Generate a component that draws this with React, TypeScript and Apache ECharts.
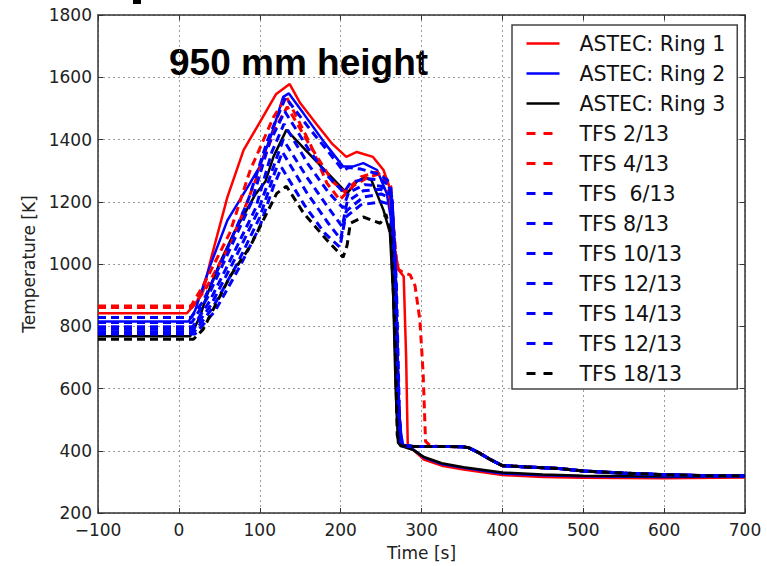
import React, { useEffect, useRef } from "react";
import * as echarts from "echarts";

// ---- axis ticks ----
const xTicks = { min: -100, max: 700, interval: 100 };
const yTicks = { min: 200, max: 1800, interval: 200 };

// ---- ASTEC (solid) ----
const ring1Time = [-100, 10, 20, 30, 40, 60, 80, 100, 120, 137, 150, 170, 190, 207, 220, 240, 253, 260, 266, 272, 278, 281, 283, 290, 303, 325, 352, 400, 450, 500, 600, 700];
const ring1Temp = [842, 842, 872, 912, 1020, 1215, 1366, 1455, 1545, 1578, 1517, 1450, 1385, 1344, 1360, 1344, 1302, 1250, 1060, 980, 960, 700, 420, 402, 372, 352, 340, 322, 316, 313, 312, 314];

const ring2Time = [-100, 12, 20, 38, 60, 88, 100, 115, 129, 136, 154, 180, 203, 215, 228, 245, 257, 262, 266, 270, 274, 290, 303, 325, 352, 400, 450, 500, 600, 700];
const ring2Temp = [815, 815, 850, 990, 1140, 1260, 1313, 1420, 1537, 1548, 1484, 1390, 1313, 1313, 1324, 1302, 1227, 1150, 850, 500, 418, 404, 378, 357, 345, 327, 321, 318, 316, 317];

const ring3Time = [-100, 14, 26, 34, 50, 70, 95, 107, 117, 133, 170, 208, 220, 230, 238, 253, 261, 265, 268, 271, 275, 290, 303, 325, 352, 400, 450, 500, 600, 700];
const ring3Temp = [768, 768, 830, 895, 1000, 1110, 1225, 1265, 1345, 1431, 1330, 1227, 1265, 1278, 1270, 1173, 1100, 900, 600, 425, 415, 402, 380, 360, 347, 330, 324, 320, 318, 318];

// ---- TFS (dashed) ----
const tfsTailTime = [290, 320, 350, 358, 370, 385, 400, 430, 470, 500, 550, 600, 650, 700];
const tfsTailTemp = [414, 414, 413, 410, 395, 372, 352, 348, 343, 335, 328, 323, 320, 320];

const tfs2Time = [-100, 15, 30, 63, 88, 117, 133, 162, 183, 199, 215, 235, 252, 262, 267, 271, 275];
const tfs2Temp = [865, 865, 930, 1100, 1300, 1472, 1537, 1388, 1260, 1206, 1250, 1280, 1292, 1250, 1050, 600, 418];

const tfs4Time = [-100, 16, 32, 65, 92, 120, 134, 160, 190, 205, 225, 245, 258, 265, 270, 276, 286, 292, 298, 302, 305, 310];
const tfs4Temp = [860, 860, 915, 1070, 1250, 1440, 1505, 1390, 1265, 1232, 1280, 1295, 1262, 1130, 985, 975, 965, 930, 820, 650, 430, 418];

const tfs6Time = [-100, 15, 30, 55, 85, 110, 132, 160, 185, 203, 210, 225, 245, 258, 264, 268, 272, 276];
const tfs6Temp = [828, 828, 880, 1020, 1200, 1400, 1535, 1440, 1360, 1300, 1310, 1305, 1290, 1270, 1200, 900, 500, 418];

const tfs8Time = [-100, 16, 35, 60, 90, 112, 131, 160, 185, 204, 212, 230, 250, 262, 267, 271, 275];
const tfs8Temp = [812, 812, 890, 1030, 1200, 1390, 1490, 1370, 1280, 1230, 1260, 1275, 1270, 1250, 1050, 600, 418];

const tfs10Time = [-100, 17, 38, 65, 95, 115, 130, 160, 185, 203, 210, 230, 250, 262, 267, 271, 275];
const tfs10Temp = [798, 798, 880, 1020, 1180, 1360, 1450, 1320, 1230, 1180, 1230, 1255, 1250, 1230, 1000, 560, 418];

const tfs12Time = [-100, 18, 40, 68, 98, 118, 129, 158, 185, 202, 208, 228, 250, 263, 268, 272, 276];
const tfs12Temp = [790, 790, 870, 1010, 1170, 1320, 1400, 1280, 1180, 1120, 1200, 1235, 1240, 1220, 980, 520, 416];

const tfs14Time = [-100, 19, 42, 72, 100, 118, 128, 158, 185, 200, 207, 228, 250, 263, 268, 272, 276];
const tfs14Temp = [782, 782, 860, 1000, 1150, 1290, 1360, 1230, 1130, 1080, 1170, 1215, 1225, 1210, 950, 500, 416];

const tfs12bTime = [-100, 20, 45, 75, 100, 117, 127, 155, 180, 199, 206, 225, 250, 264, 269, 273, 277];
const tfs12bTemp = [775, 775, 850, 990, 1120, 1250, 1310, 1190, 1100, 1054, 1150, 1190, 1200, 1190, 930, 480, 416];

const tfs18Time = [-100, 18, 30, 63, 88, 121, 133, 154, 183, 203, 208, 212, 228, 249, 256, 262, 267, 270, 274];
const tfs18Temp = [758, 758, 790, 959, 1056, 1227, 1250, 1164, 1077, 1022, 1060, 1131, 1151, 1131, 1160, 1100, 800, 450, 416];

const RED = "#ff0000";
const BLUE = "#0000ff";
const BLACK = "#000000";

type Def = { name: string; t: number[]; v: number[]; color: string; dashed: boolean };

const defs: Def[] = [
  { name: "ASTEC: Ring 1", t: ring1Time, v: ring1Temp, color: RED, dashed: false },
  { name: "ASTEC: Ring 2", t: ring2Time, v: ring2Temp, color: BLUE, dashed: false },
  { name: "ASTEC: Ring 3", t: ring3Time, v: ring3Temp, color: BLACK, dashed: false },
  { name: "TFS 2/13", t: tfs2Time, v: tfs2Temp, color: RED, dashed: true },
  { name: "TFS 4/13", t: tfs4Time, v: tfs4Temp, color: RED, dashed: true },
  { name: "TFS  6/13", t: tfs6Time, v: tfs6Temp, color: BLUE, dashed: true },
  { name: "TFS 8/13", t: tfs8Time, v: tfs8Temp, color: BLUE, dashed: true },
  { name: "TFS 10/13", t: tfs10Time, v: tfs10Temp, color: BLUE, dashed: true },
  { name: "TFS 12/13", t: tfs12Time, v: tfs12Temp, color: BLUE, dashed: true },
  { name: "TFS 14/13", t: tfs14Time, v: tfs14Temp, color: BLUE, dashed: true },
  { name: "TFS 12/13 ", t: tfs12bTime, v: tfs12bTemp, color: BLUE, dashed: true },
  { name: "TFS 18/13", t: tfs18Time, v: tfs18Temp, color: BLACK, dashed: true },
];

function buildData(d: Def): number[][] {
  const pts = d.t.map((t, i) => [t, d.v[i]]);
  if (d.dashed) {
    const last = d.t[d.t.length - 1];
    tfsTailTime.forEach((t, i) => {
      if (t > last) pts.push([t, tfsTailTemp[i]]);
    });
  }
  return pts;
}

const FONT = "DejaVu Sans";

export default function App() {
  const ref = useRef<HTMLDivElement>(null);
  useEffect(() => {
    if (!ref.current) return;
    const chart = echarts.init(ref.current, undefined, { renderer: "svg" });
    const fmtX = (v: number) => (v < 0 ? "\u2212" + Math.abs(v) : String(v));
    const fmtY = (v: number) => String(v);
    const frame = { show: true, lineStyle: { color: "#333", width: 1.5 } };
    const tick = { show: true, inside: true, length: 5, lineStyle: { color: "#333", width: 1 } };
    const grid = { show: true, lineStyle: { color: "#9a9a9a", width: 1, type: [2, 3] as any } };
    chart.setOption({
      animation: false,
      backgroundColor: "#ffffff",
      grid: { left: 98, right: 22, top: 15, bottom: 53, containLabel: false },
      xAxis: [
        {
          type: "value",
          ...xTicks,
          position: "bottom",
          axisLine: { ...frame, onZero: false },
          axisTick: tick,
          splitLine: grid,
          axisLabel: { formatter: fmtX, color: "#222", fontFamily: FONT, fontSize: 17, margin: 8 },
          name: "Time [s]",
          nameLocation: "middle",
          nameGap: 31,
          nameTextStyle: { color: "#222", fontFamily: FONT, fontSize: 17 },
        },
        {
          type: "value",
          ...xTicks,
          position: "top",
          axisLine: { ...frame, onZero: false },
          axisTick: tick,
          splitLine: { show: false },
          axisLabel: { show: false },
        },
      ],
      yAxis: [
        {
          type: "value",
          ...yTicks,
          position: "left",
          axisLine: { ...frame, onZero: false },
          axisTick: tick,
          splitLine: grid,
          axisLabel: { formatter: fmtY, color: "#222", fontFamily: FONT, fontSize: 17, margin: 6 },
          name: "Temperature [K]",
          nameLocation: "middle",
          nameGap: 49,
          nameRotate: 90,
          nameTextStyle: { color: "#222", fontFamily: FONT, fontSize: 17 },
        },
        {
          type: "value",
          ...yTicks,
          position: "right",
          axisLine: { ...frame, onZero: false },
          axisTick: tick,
          splitLine: { show: false },
          axisLabel: { show: false },
        },
      ],
      legend: {
        orient: "vertical",
        left: 512,
        top: 25,
        padding: [8, 12, 5, 13],
        itemGap: 9,
        itemWidth: 33,
        itemHeight: 14,
        backgroundColor: "#ffffff",
        borderColor: "#444",
        borderWidth: 1.5,
        borderRadius: 0,
        selectedMode: false,
        textStyle: { color: "#111", fontFamily: FONT, fontSize: 20.5, lineHeight: 20, padding: [0, 0, 0, 15] },
        data: defs.map((d) => ({
          name: d.name,
          itemStyle: { opacity: 0, borderWidth: 0 },
          lineStyle: d.dashed ? { type: [9, 8], width: 3, color: d.color } : { type: "solid", width: 2.5, color: d.color },
        })),
      },
      graphic: [
        {
          type: "text",
          left: 299 - 130,
          top: 44,
          style: { text: "950 mm height", font: "bold 37px 'Liberation Sans', Arial", fill: "#000" },
        },
        { type: "rect", shape: { x: 133, y: 0, width: 8, height: 4 }, style: { fill: "#000" } },
      ],
      series: defs.map((d) => ({
        type: "line",
        name: d.name,
        data: buildData(d),
        symbol: "none",
        showSymbol: false,
        silent: true,
        clip: true,
        lineStyle: { color: d.color, width: d.dashed ? 3 : 2.5, type: d.dashed ? [8, 5] : "solid" },
        itemStyle: { color: d.color },
      })),
    });
    return () => chart.dispose();
  }, []);
  return <div ref={ref} style={{ position: "absolute", left: 0, top: 0, width: 767, height: 566 }} />;
}
